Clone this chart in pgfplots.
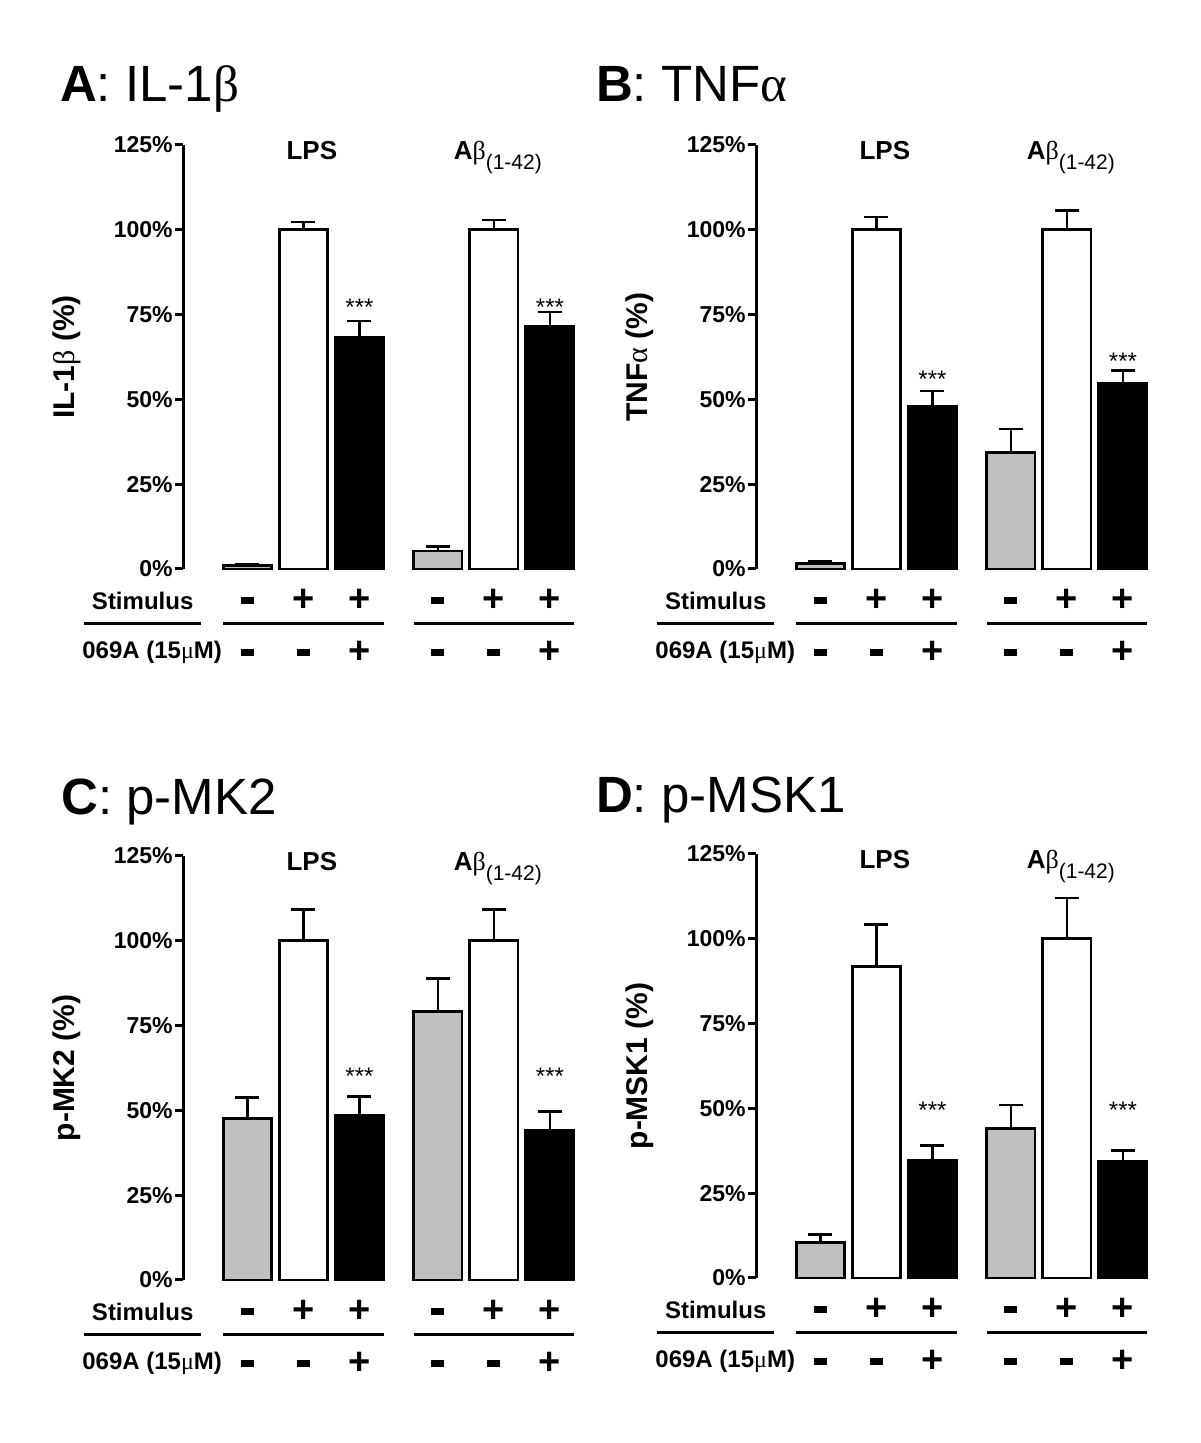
\documentclass[border=0pt]{standalone}
\usepackage{fontspec}
\setmainfont{Liberation Sans}
\newfontfamily\grk{Liberation Serif}
\usepackage{pgfplots}
\pgfplotsset{compat=1.18}
\definecolor{barg}{RGB}{192,192,192}

\newcommand\mn{\rule{6.5pt}{3.2pt}}
\newcommand\pl{{\fontsize{19}{19}\selectfont\bfseries +}}
\newcommand\tickf{\fontsize{11.5}{12}\selectfont\bfseries}
\newcommand\labf{\fontsize{13}{13}\selectfont\bfseries}
\newcommand\ylf{\fontsize{15}{15}\selectfont\bfseries}
\newcommand\rowf{\fontsize{12}{12}\selectfont\bfseries}
\newcommand\titf{\fontsize{25.5}{25.5}\selectfont}
\newcommand\Abeta{\textbf{A}{\grk\mdseries β}\raisebox{-5pt}{\fontsize{10.5}{10.5}\selectfont\mdseries (1-42)}}

\pgfplotsset{
  panel/.style={
    scale only axis, width=195.5pt, height=212pt,
    xmin=-1.15, xmax=5.83, ymin=0, ymax=125,
    axis x line=none, axis y line*=left, xtick=\empty,
    ytick={0,25,50,75,100,125},
    yticklabels={0\%,25\%,50\%,75\%,100\%,125\%},
    yticklabel style={font=\tickf, inner sep=1pt},
    tick align=outside, major tick length=4pt,
    axis line style={line width=1.5pt, black},
    every tick/.style={line width=1.5pt, black},
    clip=false, anchor=south west,
  },
  bars/.style={ybar, bar width=0.86, bar shift=0pt, draw=black, line width=1.4pt,
    error bars/y dir=plus, error bars/y explicit,
    error bars/error bar style={line width=1.2pt, black},
    error bars/error mark options={line width=1.3pt, mark size=6pt, black, rotate=90}},
}

\newcommand\rows{%
  \node[font=\rowf] at (axis cs:-1.87,-9.3) {Stimulus};
  \node[font=\rowf] at (axis cs:-1.70,-24.6) {069A (15{\grk\mdseries μ}M)};
  \draw[line width=1.6pt] (axis cs:-2.92,-16) -- (axis cs:-0.83,-16);
  \draw[line width=1.6pt] (axis cs:-0.43,-16) -- (axis cs:2.43,-16);
  \draw[line width=1.6pt] (axis cs:2.97,-16) -- (axis cs:5.83,-16);
  \node at (axis cs:0,-9.3) {\mn};
  \node at (axis cs:1,-9.3) {\pl};
  \node at (axis cs:2,-9.3) {\pl};
  \node at (axis cs:3.4,-9.3) {\mn};
  \node at (axis cs:4.4,-9.3) {\pl};
  \node at (axis cs:5.4,-9.3) {\pl};
  \node at (axis cs:0,-24.6) {\mn};
  \node at (axis cs:1,-24.6) {\mn};
  \node at (axis cs:2,-24.6) {\pl};
  \node at (axis cs:3.4,-24.6) {\mn};
  \node at (axis cs:4.4,-24.6) {\mn};
  \node at (axis cs:5.4,-24.6) {\pl};
  \node[anchor=base, font=\labf] at (axis cs:1.15,120.6) {LPS};
  \node[anchor=base, font=\labf] at (axis cs:4.47,120.6) {\Abeta};
}
\newcommand\stars[2]{%
  \node[font=\fontsize{12}{12}\selectfont] at (axis cs:2,#1) {***};
  \node[font=\fontsize{12}{12}\selectfont] at (axis cs:5.4,#2) {***};
}

\begin{document}
\begin{tikzpicture}
\path[use as bounding box] (0,0) rectangle (600pt,721.5pt);

% ---- A ----
\begin{axis}[panel, at={(91.5pt,437pt)}]
\addplot[bars, fill=barg] coordinates {(0,1.0) +- (0,0.3) (3.4,5.3) +- (0,1.4)};
\addplot[bars, fill=white] coordinates {(1,100) +- (0,2.3) (4.4,100) +- (0,2.9)};
\addplot[bars, fill=black] coordinates {(2,68.4) +- (0,4.7) (5.4,71.5) +- (0,4.3)};
\rows
\stars{77.3}{77.3}
\node[rotate=90, font=\ylf] at (axis cs:-3.22,62.5) {IL-1{\grk\mdseries β} (\%)};
\node[anchor=base west, font=\titf] at (axis cs:-3.47,137.8) {\textbf{A}: IL-1{\grk β}};
\end{axis}

% ---- B ----
\begin{axis}[panel, at={(378pt,437pt)}]
\addplot[bars, fill=barg] coordinates {(0,1.7) +- (0,0.5) (3.4,34.4) +- (0,6.9)};
\addplot[bars, fill=white] coordinates {(1,100) +- (0,3.8) (4.4,100) +- (0,5.6)};
\addplot[bars, fill=black] coordinates {(2,48.0) +- (0,4.5) (5.4,54.6) +- (0,4.0)};
\rows
\stars{55.9}{61.3}
\node[rotate=90, font=\ylf] at (axis cs:-3.22,62.5) {TNF{\grk\mdseries α} (\%)};
\node[anchor=base west, font=\titf] at (axis cs:-4.13,137.8) {\textbf{B}: TNF{\grk α}};
\end{axis}

% ---- C ----
\begin{axis}[panel, at={(91.5pt,81.5pt)}]
\addplot[bars, fill=barg] coordinates {(0,47.6) +- (0,6.2) (3.4,79.1) +- (0,9.8)};
\addplot[bars, fill=white] coordinates {(1,100) +- (0,9.3) (4.4,100) +- (0,9.3)};
\addplot[bars, fill=black] coordinates {(2,48.6) +- (0,5.5) (5.4,44.1) +- (0,5.6)};
\rows
\stars{60.0}{60.0}
\node[rotate=90, font=\ylf] at (axis cs:-3.22,62.5) {p-MK2 (\%)};
\node[anchor=base west, font=\titf] at (axis cs:-3.45,137.1) {\textbf{C}: p-MK2};
\end{axis}

% ---- D ----
\begin{axis}[panel, at={(378pt,82.5pt)}]
\addplot[bars, fill=barg] coordinates {(0,10.5) +- (0,2.3) (3.4,44.1) +- (0,6.9)};
\addplot[bars, fill=white] coordinates {(1,91.9) +- (0,12.3) (4.4,100) +- (0,12.0)};
\addplot[bars, fill=black] coordinates {(2,34.7) +- (0,4.3) (5.4,34.4) +- (0,3.2)};
\rows
\stars{49.5}{49.5}
\node[rotate=90, font=\ylf] at (axis cs:-3.22,62.5) {p-MSK1 (\%)};
\node[anchor=base west, font=\titf] at (axis cs:-4.13,137.1) {\textbf{D}: p-MSK1};
\end{axis}
\end{tikzpicture}
\end{document}
